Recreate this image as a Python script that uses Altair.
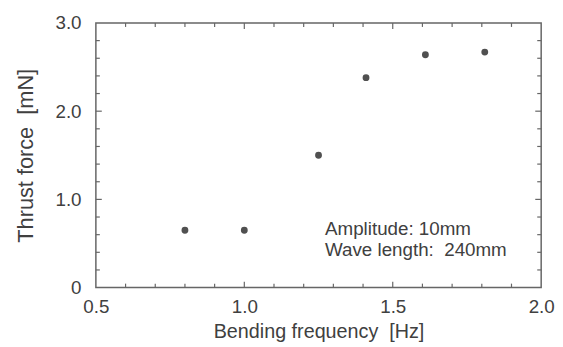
import altair as alt
import pandas as pd

# data
freq = [0.8, 1.0, 1.25, 1.41, 1.61, 1.81]
thrust = [0.65, 0.65, 1.50, 2.38, 2.64, 2.67]

x_minor = [0.6, 0.7, 0.8, 0.9, 1.1, 1.2, 1.3, 1.4, 1.6, 1.7, 1.8, 1.9]
x_major = [1.0, 1.5]
y_minor = [0.2, 0.4, 0.6, 0.8, 1.2, 1.4, 1.6, 1.8, 2.2, 2.4, 2.6, 2.8]
y_major = [1.0, 2.0]

x_labels = [0.5, 1.0, 1.5, 2.0]
y_labels = [0.0, 1.0, 2.0, 3.0]

note_lines = ["Amplitude: 10mm", "Wave length:\u00a0 240mm"]
note_x = [1.272, 1.272]
note_y = [0.60, 0.36]

FONT = "Liberation Sans"
INK = "#404040"
LINE = "#666666"
W, H = 451, 268

xs = alt.Scale(domain=[0.5, 2.0], nice=False, zero=False)
ys = alt.Scale(domain=[0, 3.0], nice=False)

x_axis = alt.Axis(values=x_labels, format=".1f", ticks=False, domain=False, grid=False,
                  labelFlush=False, labelOverlap=False,
                  labelFontSize=19, labelPadding=10, labelColor=INK, labelFont=FONT,
                  title="Bending frequency\u00a0 [Hz]", titleFontSize=20, titleFont=FONT,
                  titleFontWeight="normal", titleColor=INK, titlePadding=6)
y_axis = alt.Axis(values=y_labels,
                  labelExpr="datum.value == 0 ? '0\u00a0' : format(datum.value, '.1f')",
                  ticks=False, domain=False, grid=False,
                  labelFlush=False, labelOverlap=False,
                  labelFontSize=19, labelPadding=15, labelColor=INK, labelFont=FONT,
                  title="Thrust force\u00a0 [mN]", titleFontSize=22, titleFont=FONT,
                  titleFontWeight="normal", titleColor=INK, titlePadding=18)

X = alt.X("x:Q", scale=xs, axis=x_axis)
Y = alt.Y("y:Q", scale=ys, axis=y_axis)

pts = alt.Chart(pd.DataFrame({"x": freq, "y": thrust})).mark_circle(
    size=48, color="#505050", opacity=1).encode(x=X, y=Y)

def xticks(vals, length):
    d = pd.DataFrame({"x": vals})
    b = alt.Chart(d).mark_rule(color=LINE, strokeWidth=1.2).encode(
        x=X, y=alt.value(H), y2=alt.value(H - length))
    t = alt.Chart(d).mark_rule(color=LINE, strokeWidth=1.2).encode(
        x=X, y=alt.value(0), y2=alt.value(length))
    return b + t

def yticks(vals, length):
    d = pd.DataFrame({"y": vals})
    l = alt.Chart(d).mark_rule(color=LINE, strokeWidth=1.2).encode(
        y=Y, x=alt.value(0), x2=alt.value(length))
    r = alt.Chart(d).mark_rule(color=LINE, strokeWidth=1.2).encode(
        y=Y, x=alt.value(W), x2=alt.value(W - length))
    return l + r

note = alt.Chart(pd.DataFrame({"x": note_x, "y": note_y, "t": note_lines})).mark_text(
    align="left", baseline="alphabetic", font=FONT, fontSize=19, color=INK).encode(
    x=X, y=Y, text="t:N")

chart = alt.layer(
    xticks(x_minor, 4), xticks(x_major, 6), yticks(y_minor, 4), yticks(y_major, 6),
    pts, note
).properties(
    width=W, height=H,
    autosize=alt.AutoSizeParams(type="none"),
    padding={"left": 89, "top": 13, "right": 14, "bottom": 58},
    background="white",
).configure_view(stroke=LINE, strokeWidth=1.5)

chart.save("out.html", embed_options={"renderer": "svg", "actions": False})
